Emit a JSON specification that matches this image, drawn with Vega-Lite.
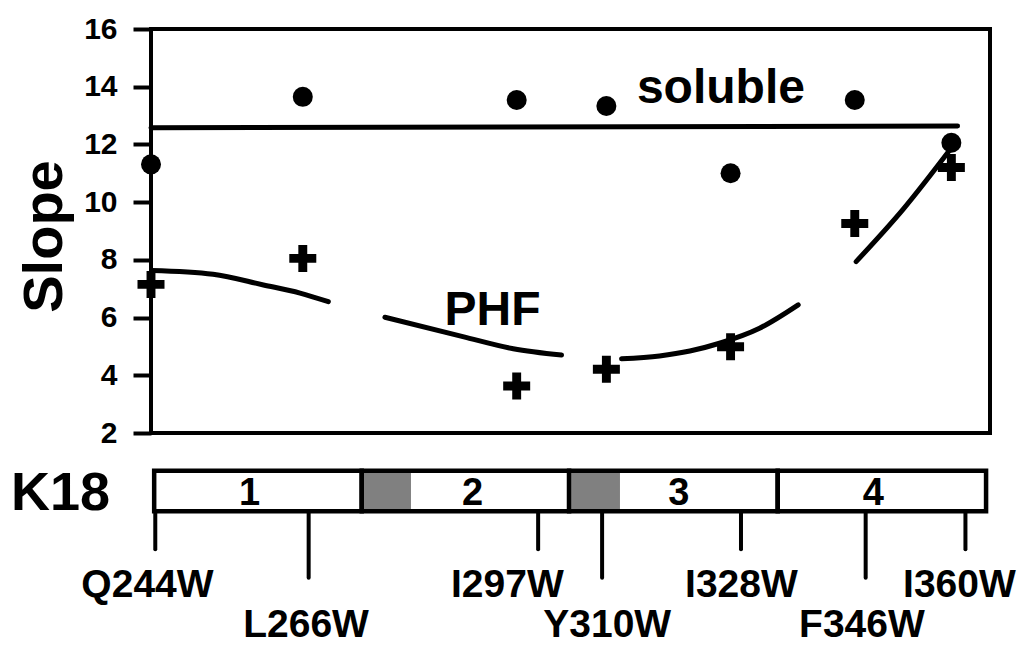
{
  "$schema": "https://vega.github.io/schema/vega-lite/v6.json",
  "autosize": {"type": "none"},
  "width": 839,
  "height": 404,
  "padding": {"left": 151, "top": 29, "right": 30, "bottom": 213},
  "background": "white",
  "config": {
    "view": {"stroke": "black", "strokeWidth": 4},
    "font": "Liberation Sans",
    "text": {"font": "Liberation Sans", "fontWeight": "bold", "color": "black"}
  },
  "resolve": {"axis": {"y": "independent", "x": "independent"}},
  "datasets": {
    "slopes": [
      {"mutant": "Q244W", "residue": 244, "state": "soluble", "slope": 11.31},
      {"mutant": "L266W", "residue": 266, "state": "soluble", "slope": 13.65},
      {"mutant": "I297W", "residue": 297, "state": "soluble", "slope": 13.54},
      {"mutant": "Y310W", "residue": 310, "state": "soluble", "slope": 13.33},
      {"mutant": "I328W", "residue": 328, "state": "soluble", "slope": 11.0},
      {"mutant": "F346W", "residue": 346, "state": "soluble", "slope": 13.54},
      {"mutant": "I360W", "residue": 360, "state": "soluble", "slope": 12.06},
      {"mutant": "Q244W", "residue": 244, "state": "PHF", "slope": 7.15},
      {"mutant": "L266W", "residue": 266, "state": "PHF", "slope": 8.05},
      {"mutant": "I297W", "residue": 297, "state": "PHF", "slope": 3.63},
      {"mutant": "Y310W", "residue": 310, "state": "PHF", "slope": 4.21},
      {"mutant": "I328W", "residue": 328, "state": "PHF", "slope": 4.99},
      {"mutant": "F346W", "residue": 346, "state": "PHF", "slope": 9.26},
      {"mutant": "I360W", "residue": 360, "state": "PHF", "slope": 11.2}
    ],
    "fits": [
      {"piece": "soluble", "residue": 244, "slope": 12.58},
      {"piece": "soluble", "residue": 360.9, "slope": 12.64},
      {"piece": "PHF-1", "residue": 244.1, "slope": 7.63},
      {"piece": "PHF-1", "residue": 253.0, "slope": 7.5},
      {"piece": "PHF-1", "residue": 260.3, "slope": 7.13},
      {"piece": "PHF-1", "residue": 265.6, "slope": 6.85},
      {"piece": "PHF-1", "residue": 269.7, "slope": 6.55},
      {"piece": "PHF-2", "residue": 277.9, "slope": 6.01},
      {"piece": "PHF-2", "residue": 289.2, "slope": 5.34},
      {"piece": "PHF-2", "residue": 296.5, "slope": 4.92},
      {"piece": "PHF-2", "residue": 303.5, "slope": 4.7},
      {"piece": "PHF-3", "residue": 312.2, "slope": 4.57},
      {"piece": "PHF-3", "residue": 317.7, "slope": 4.67},
      {"piece": "PHF-3", "residue": 322.1, "slope": 4.84},
      {"piece": "PHF-3", "residue": 326.4, "slope": 5.11},
      {"piece": "PHF-3", "residue": 332.2, "slope": 5.63},
      {"piece": "PHF-3", "residue": 337.8, "slope": 6.44},
      {"piece": "PHF-4", "residue": 346.2, "slope": 7.94},
      {"piece": "PHF-4", "residue": 353.0, "slope": 9.75},
      {"piece": "PHF-4", "residue": 360.1, "slope": 11.91}
    ],
    "notes": [
      {"label": "soluble", "residue": 326.6, "slope": 13.43},
      {"label": "PHF", "residue": 293.5, "slope": 5.74}
    ],
    "repeats": [
      {"repeat": "1", "start": 244.46, "end": 274.54, "label_pos": 258.3},
      {"repeat": "2", "start": 274.54, "end": 304.6, "label_pos": 290.6},
      {"repeat": "3", "start": 304.6, "end": 334.83, "label_pos": 320.5},
      {"repeat": "4", "start": 334.83, "end": 365.03, "label_pos": 348.7}
    ],
    "motifs": [
      {"motif": "PHF6*", "start": 274.73, "end": 281.68},
      {"motif": "PHF6", "start": 305.02, "end": 311.97}
    ],
    "sites": [
      {"mutant": "Q244W", "tick_pos": 244.62, "label_pos": 243.49, "row": 1},
      {"mutant": "L266W", "tick_pos": 266.85, "label_pos": 266.47, "row": 2},
      {"mutant": "I297W", "tick_pos": 300.11, "label_pos": 295.65, "row": 1},
      {"mutant": "Y310W", "tick_pos": 309.38, "label_pos": 310.12, "row": 2},
      {"mutant": "I328W", "tick_pos": 329.51, "label_pos": 329.57, "row": 1},
      {"mutant": "F346W", "tick_pos": 347.58, "label_pos": 347.04, "row": 2},
      {"mutant": "I360W", "tick_pos": 362.04, "label_pos": 361.17, "row": 1}
    ],
    "construct": [{"label": "K18"}]
  },
  "layer": [
    {
      "data": {"name": "fits"},
      "mark": {"type": "line", "color": "black", "strokeWidth": 5, "strokeCap": "round", "interpolate": "monotone"},
      "encoding": {
        "x": {"field": "residue", "type": "quantitative", "scale": {"domain": [244, 365.6], "nice": false, "zero": false}, "axis": null},
        "y": {
          "field": "slope", "type": "quantitative",
          "scale": {"domain": [2, 16], "nice": false, "zero": false},
          "axis": {
            "title": "Slope", "values": [2, 4, 6, 8, 10, 12, 14, 16], "grid": false, "domain": false,
            "ticks": true, "tickSize": 18, "tickWidth": 4, "tickColor": "black",
            "labelFont": "Liberation Sans", "labelFontSize": 30, "labelFontWeight": "bold", "labelColor": "black", "labelPadding": 16,
            "titleFont": "Liberation Sans", "titleFontSize": 56, "titleFontWeight": "bold", "titleColor": "black",
            "titleAngle": -90, "titleAlign": "center", "titleBaseline": "alphabetic", "titleX": -90, "titleY": 207
          }
        },
        "detail": {"field": "piece", "type": "nominal"}
      }
    },
    {
      "data": {"name": "slopes"},
      "mark": {"type": "point", "filled": true, "color": "black", "opacity": 1, "strokeWidth": 0},
      "encoding": {
        "x": {"field": "residue", "type": "quantitative", "axis": null},
        "y": {"field": "slope", "type": "quantitative", "axis": null},
        "shape": {"field": "state", "type": "nominal", "scale": {"domain": ["soluble", "PHF"], "range": ["circle", "M-1,-0.33L-0.33,-0.33L-0.33,-1L0.33,-1L0.33,-0.33L1,-0.33L1,0.33L0.33,0.33L0.33,1L-0.33,1L-0.33,0.33L-1,0.33Z"]}, "legend": null},
        "size": {"field": "state", "type": "nominal", "scale": {"domain": ["soluble", "PHF"], "range": [400, 729]}, "legend": null}
      }
    },
    {
      "data": {"name": "notes"},
      "mark": {"type": "text", "fontSize": 48, "fontWeight": "bold", "align": "center", "baseline": "alphabetic", "color": "black"},
      "encoding": {
        "x": {"field": "residue", "type": "quantitative", "axis": null},
        "y": {"field": "slope", "type": "quantitative", "axis": null},
        "text": {"field": "label"}
      }
    },
    {
      "data": {"name": "motifs"},
      "mark": {"type": "rect", "color": "#808080"},
      "encoding": {
        "x": {"field": "start", "type": "quantitative", "axis": null},
        "x2": {"field": "end"},
        "y": {"datum": 0.69, "axis": null},
        "y2": {"datum": -0.71}
      }
    },
    {
      "data": {"name": "repeats"},
      "mark": {"type": "rect", "fillOpacity": 0, "stroke": "black", "strokeWidth": 4.5},
      "encoding": {
        "x": {"field": "start", "type": "quantitative", "axis": null},
        "x2": {"field": "end"},
        "y": {"datum": 0.69, "axis": null},
        "y2": {"datum": -0.71}
      }
    },
    {
      "data": {"name": "repeats"},
      "mark": {"type": "text", "fontSize": 38, "fontWeight": "bold", "align": "center", "baseline": "alphabetic", "color": "black"},
      "encoding": {
        "x": {"field": "label_pos", "type": "quantitative", "axis": null},
        "y": {"datum": -0.5, "axis": null},
        "text": {"field": "repeat"}
      }
    },
    {
      "data": {"name": "sites"},
      "transform": [{"filter": "datum.row === 1"}],
      "mark": {"type": "rule", "color": "black", "strokeWidth": 4, "strokeCap": "round"},
      "encoding": {
        "x": {"field": "tick_pos", "type": "quantitative", "axis": null},
        "y": {"datum": -0.71, "axis": null},
        "y2": {"datum": -2.03}
      }
    },
    {
      "data": {"name": "sites"},
      "transform": [{"filter": "datum.row === 2"}],
      "mark": {"type": "rule", "color": "black", "strokeWidth": 4, "strokeCap": "round"},
      "encoding": {
        "x": {"field": "tick_pos", "type": "quantitative", "axis": null},
        "y": {"datum": -0.71, "axis": null},
        "y2": {"datum": -3.02}
      }
    },
    {
      "data": {"name": "sites"},
      "transform": [{"filter": "datum.row === 1"}],
      "mark": {"type": "text", "fontSize": 39, "fontWeight": "bold", "align": "center", "baseline": "alphabetic", "color": "black"},
      "encoding": {
        "x": {"field": "label_pos", "type": "quantitative", "axis": null},
        "y": {"datum": -3.68, "axis": null},
        "text": {"field": "mutant"}
      }
    },
    {
      "data": {"name": "sites"},
      "transform": [{"filter": "datum.row === 2"}],
      "mark": {"type": "text", "fontSize": 39, "fontWeight": "bold", "align": "center", "baseline": "alphabetic", "color": "black"},
      "encoding": {
        "x": {"field": "label_pos", "type": "quantitative", "axis": null},
        "y": {"datum": -5.07, "axis": null},
        "text": {"field": "mutant"}
      }
    },
    {
      "data": {"name": "construct"},
      "mark": {"type": "text", "fontSize": 54, "fontWeight": "bold", "align": "center", "baseline": "alphabetic", "color": "black"},
      "encoding": {
        "x": {"datum": 230.9, "axis": null},
        "y": {"datum": -0.67, "axis": null},
        "text": {"field": "label"}
      }
    }
  ]
}
